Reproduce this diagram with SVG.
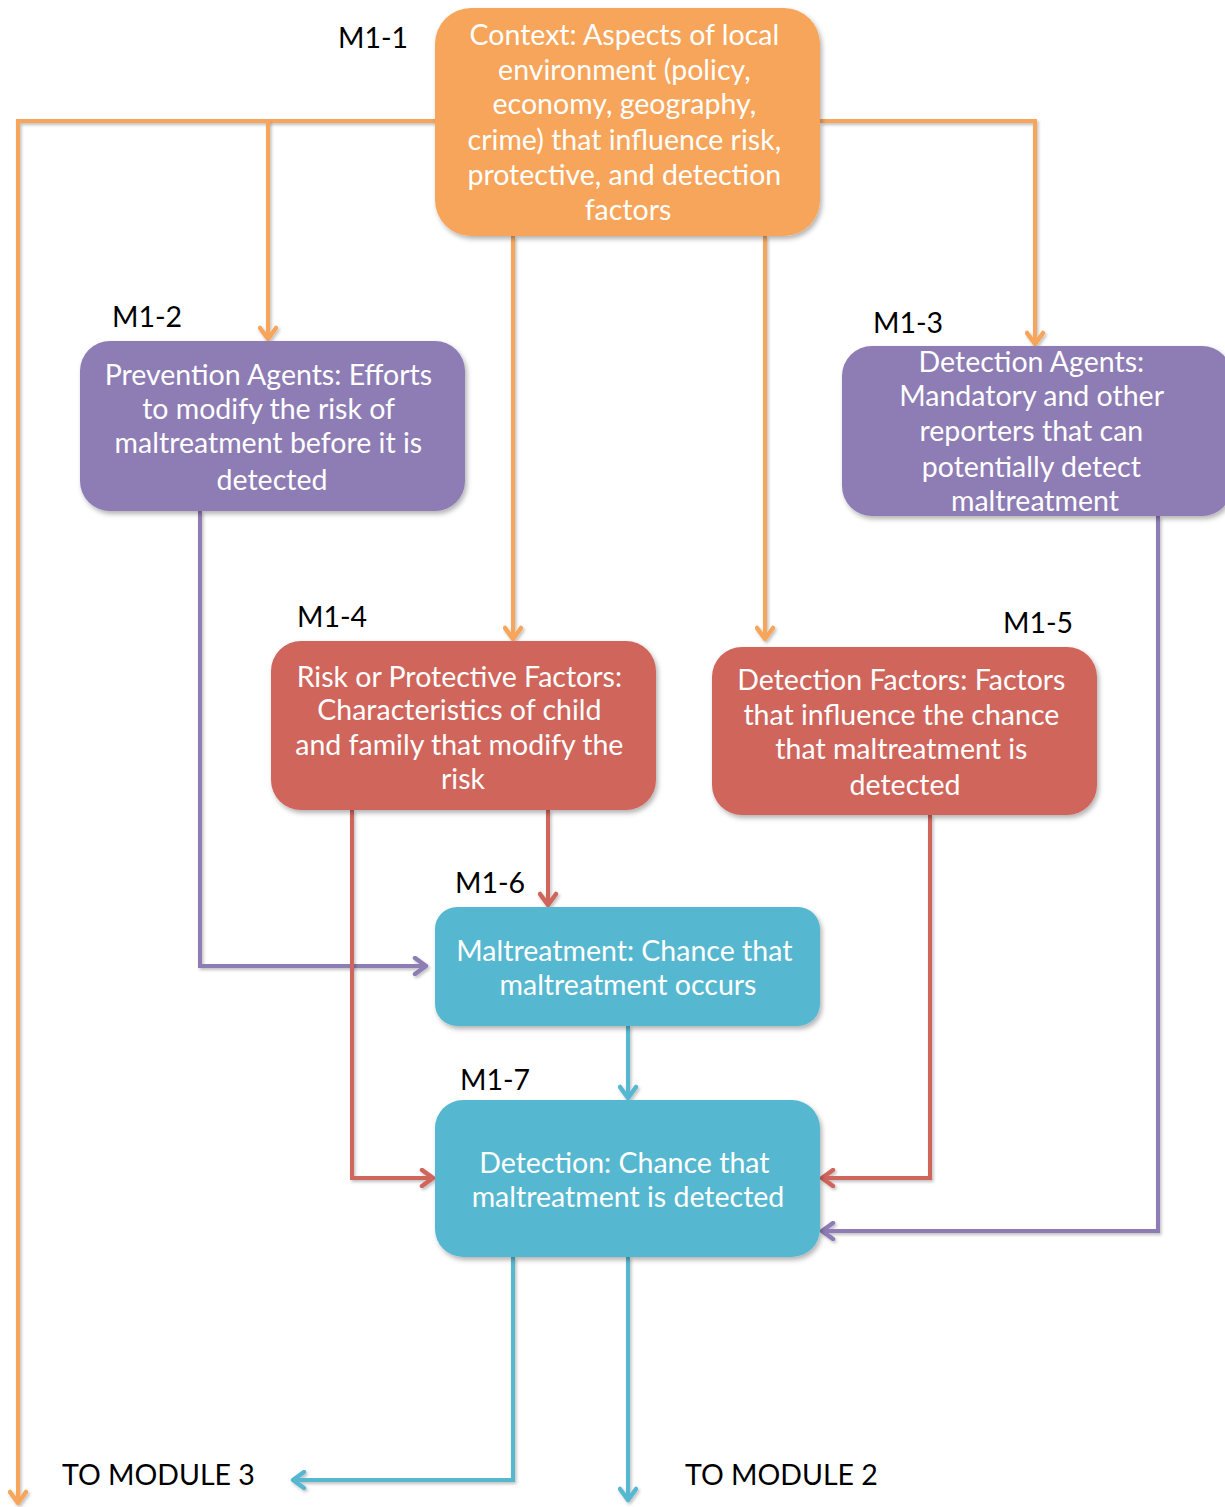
<svg xmlns="http://www.w3.org/2000/svg" width="1225" height="1507" viewBox="0 0 1225 1507">
  <defs>
    <filter id="shadow" x="-10%" y="-10%" width="130%" height="130%">
      <feDropShadow dx="2" dy="3" stdDeviation="2.5" flood-color="#000" flood-opacity="0.3"/>
    </filter>
    <!-- user-space region so straight (zero-width) lines keep their shadow -->
    <filter id="lineShadow" filterUnits="userSpaceOnUse" x="0" y="0" width="1225" height="1507">
      <feDropShadow dx="1.5" dy="2" stdDeviation="1.5" flood-color="#000" flood-opacity="0.25"/>
    </filter>
    <marker id="arrOrange" viewBox="0 0 20 20" refX="17" refY="10" markerWidth="20" markerHeight="20" markerUnits="userSpaceOnUse" orient="auto">
      <polyline points="6,2 17,10 6,18" fill="none" stroke="#F7A55A" stroke-width="4.5" stroke-linecap="round" stroke-linejoin="round"/>
    </marker>
    <marker id="arrPurple" viewBox="0 0 20 20" refX="17" refY="10" markerWidth="20" markerHeight="20" markerUnits="userSpaceOnUse" orient="auto">
      <polyline points="6,2 17,10 6,18" fill="none" stroke="#8E7BB5" stroke-width="4.5" stroke-linecap="round" stroke-linejoin="round"/>
    </marker>
    <marker id="arrRed" viewBox="0 0 20 20" refX="17" refY="10" markerWidth="20" markerHeight="20" markerUnits="userSpaceOnUse" orient="auto">
      <polyline points="6,2 17,10 6,18" fill="none" stroke="#D0655C" stroke-width="4.5" stroke-linecap="round" stroke-linejoin="round"/>
    </marker>
    <marker id="arrTeal" viewBox="0 0 20 20" refX="17" refY="10" markerWidth="20" markerHeight="20" markerUnits="userSpaceOnUse" orient="auto">
      <polyline points="6,2 17,10 6,18" fill="none" stroke="#56B8D0" stroke-width="4.5" stroke-linecap="round" stroke-linejoin="round"/>
    </marker>
  </defs>
  <style>
    .box { filter: url(#shadow); }
    .orange { fill: #F7A55A; }
    .purple { fill: #8E7BB5; }
    .red { fill: #D0655C; }
    .teal { fill: #56B8D0; }
    .btext { font-family: "Lato", "Open Sans", "Liberation Sans", sans-serif; font-size: 28.5px; fill: #fff; text-anchor: middle; }
    .lbl { font-family: "Lato", "Open Sans", "Liberation Sans", sans-serif; font-size: 28.5px; fill: #000; }
    .conn { fill: none; stroke-width: 4; filter: url(#lineShadow); }
    .co { stroke: #F7A55A; marker-end: url(#arrOrange); }
    .cp { stroke: #8E7BB5; marker-end: url(#arrPurple); }
    .cr { stroke: #D0655C; marker-end: url(#arrRed); }
    .ct { stroke: #56B8D0; marker-end: url(#arrTeal); }
  </style>

  <!-- connectors -->
  <g id="connectors">
    <!-- context spine: left edge and branches -->
    <path class="conn co" d="M435,121 H18 V1503"/>
    <path class="conn co" d="M268,121 V339"/>
    <path class="conn co" d="M820,121 H1035 V344"/>
    <path class="conn co" d="M513,236 V639"/>
    <path class="conn co" d="M765,236 V639"/>
    <!-- prevention agents to maltreatment -->
    <path class="conn cp" d="M200,511 V966 H426"/>
    <!-- risk factors -->
    <path class="conn cr" d="M548,810 V905"/>
    <path class="conn cr" d="M352,810 V1178 H433"/>
    <!-- detection factors -->
    <path class="conn cr" d="M930,815 V1178 H822"/>
    <!-- detection agents -->
    <path class="conn cp" d="M1158,516 V1231 H822"/>
    <!-- maltreatment to detection -->
    <path class="conn ct" d="M628,1026 V1098"/>
    <!-- outputs -->
    <path class="conn ct" d="M513,1257 V1480 H293"/>
    <path class="conn ct" d="M628,1257 V1500"/>
  </g>

  <g id="M1-1">
    <rect class="box orange" x="435" y="8" width="385" height="228" rx="36"/>
    <text class="btext" x="628">
      <tspan x="628" y="45">Context: Aspects of local</tspan>
      <tspan x="628" y="80">environment (policy,</tspan>
      <tspan x="628" y="114">economy, geography,</tspan>
      <tspan x="628" y="150">crime) that influence risk,</tspan>
      <tspan x="628" y="185">protective, and detection</tspan>
      <tspan x="628" y="220">factors</tspan>
    </text>
    <text class="lbl" x="338" y="48">M1-1</text>
  </g>

  <g id="M1-2">
    <rect class="box purple" x="80" y="341" width="385" height="170" rx="30"/>
    <text class="btext">
      <tspan x="272" y="385">Prevention Agents: Efforts</tspan>
      <tspan x="272" y="419">to modify the risk of</tspan>
      <tspan x="272" y="453">maltreatment before it is</tspan>
      <tspan x="272" y="490">detected</tspan>
    </text>
    <text class="lbl" x="112" y="327">M1-2</text>
  </g>

  <g id="M1-3">
    <rect class="box purple" x="842" y="346" width="390" height="170" rx="30"/>
    <text class="btext">
      <tspan x="1035" y="372">Detection Agents:</tspan>
      <tspan x="1035" y="406">Mandatory and other</tspan>
      <tspan x="1035" y="441">reporters that can</tspan>
      <tspan x="1035" y="477">potentially detect</tspan>
      <tspan x="1035" y="511">maltreatment</tspan>
    </text>
    <text class="lbl" x="873" y="333">M1-3</text>
  </g>

  <g id="M1-4">
    <rect class="box red" x="271" y="641" width="385" height="169" rx="30"/>
    <text class="btext">
      <tspan x="463" y="687">Risk or Protective Factors:</tspan>
      <tspan x="463" y="720">Characteristics of child</tspan>
      <tspan x="463" y="755">and family that modify the</tspan>
      <tspan x="463" y="789">risk</tspan>
    </text>
    <text class="lbl" x="297" y="627">M1-4</text>
  </g>

  <g id="M1-5">
    <rect class="box red" x="712" y="647" width="385" height="168" rx="30"/>
    <text class="btext">
      <tspan x="905" y="690">Detection Factors: Factors</tspan>
      <tspan x="905" y="725">that influence the chance</tspan>
      <tspan x="905" y="759">that maltreatment is</tspan>
      <tspan x="905" y="795">detected</tspan>
    </text>
    <text class="lbl" x="1003" y="633">M1-5</text>
  </g>

  <g id="M1-6">
    <rect class="box teal" x="435" y="907" width="385" height="119" rx="22"/>
    <text class="btext">
      <tspan x="628" y="961">Maltreatment: Chance that</tspan>
      <tspan x="628" y="995">maltreatment occurs</tspan>
    </text>
    <text class="lbl" x="455" y="893">M1-6</text>
  </g>

  <g id="M1-7">
    <rect class="box teal" x="435" y="1100" width="385" height="157" rx="28"/>
    <text class="btext">
      <tspan x="628" y="1173">Detection: Chance that</tspan>
      <tspan x="628" y="1207">maltreatment is detected</tspan>
    </text>
    <text class="lbl" x="460" y="1090">M1-7</text>
  </g>

  <g id="outputs">
    <text class="lbl" x="62" y="1485">TO MODULE 3</text>
    <text class="lbl" x="685" y="1485">TO MODULE 2</text>
  </g>
</svg>
